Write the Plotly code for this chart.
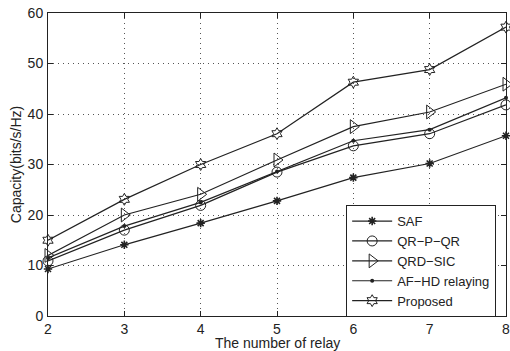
import plotly.graph_objects as go

relays = [2, 3, 4, 5, 6, 7, 8]
saf = [9.3, 14.1, 18.4, 22.8, 27.4, 30.2, 35.7]
qrpqr = [10.9, 17.0, 21.9, 28.5, 33.7, 36.1, 41.8]
qrdsic = [12.0, 20.0, 24.1, 30.9, 37.5, 40.4, 45.9]
afhd = [11.5, 17.8, 22.5, 28.6, 34.7, 36.9, 43.2]
proposed = [15.0, 23.1, 30.0, 36.1, 46.3, 48.8, 57.2]

x_ticks = [2, 3, 4, 5, 6, 7, 8]
y_ticks = [0, 10, 20, 30, 40, 50, 60]

col = "#222222"
series = [
    ("SAF", saf, dict(symbol="asterisk-open", size=7, line=dict(width=1.6, color=col))),
    ("QR\u2212P\u2212QR", qrpqr, dict(symbol="circle-open", size=10, line=dict(width=1, color=col))),
    ("QRD\u2212SIC", qrdsic, dict(symbol="triangle-right-open", size=12, line=dict(width=1, color=col))),
    ("AF\u2212HD relaying", afhd, dict(symbol="circle", size=4, color=col, line=dict(width=0))),
    ("Proposed", proposed, dict(symbol="hexagram-open", size=9, line=dict(width=1, color=col))),
]

fig = go.Figure()
for name, ys, mk in series:
    fig.add_trace(go.Scatter(x=relays, y=ys, name=name, mode="lines+markers", cliponaxis=False,
                             line=dict(color=col, width=1.2), marker=mk))

axis_common = dict(showline=True, linecolor="#222222", linewidth=1, mirror="ticks",
                   ticks="inside", ticklen=5, tickcolor="#222222",
                   showgrid=True, gridcolor="#555555", griddash="1px,4px", gridwidth=1,
                   zeroline=False, automargin=False, ticklabeloverflow="allow",
                   tickfont=dict(family="Liberation Sans, Arial", size=14, color="#222222"))

fig.update_layout(
    width=510, height=351,
    margin=dict(l=48, r=4, t=13, b=35),
    paper_bgcolor="white", plot_bgcolor="white",
    font=dict(family="Liberation Sans, Arial", size=14, color="#222222"),
    xaxis=dict(range=[2, 8], tickvals=x_ticks, ticklabelstandoff=0, **axis_common),
    yaxis=dict(range=[0, 60], tickvals=y_ticks, ticklabelstandoff=1,
               title=dict(text="Capacity(bits/s/Hz)", standoff=2, font=dict(size=14)), **axis_common),
    legend=dict(x=0.651, y=0.366, xanchor="left", yanchor="top",
                bgcolor="white", bordercolor="#222222", borderwidth=1,
                font=dict(size=13), itemwidth=40, tracegroupgap=0),
    showlegend=True,
    annotations=[dict(text="The number of relay", xref="paper", yref="paper",
                      x=0.5, y=-0.1185, xanchor="center", yanchor="bottom",
                      borderpad=0, showarrow=False, font=dict(size=14))],
)

fig.write_html("out.html", config={"displayModeBar": False},
               post_script="document.body.style.margin='0';document.body.style.overflow='hidden';")
